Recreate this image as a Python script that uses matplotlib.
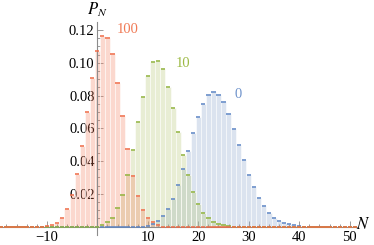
import numpy as np
import matplotlib
matplotlib.use('Agg')
import matplotlib.pyplot as plt
from matplotlib.ticker import FixedLocator

plt.rcParams['font.family'] = ['Liberation Serif', 'DejaVu Serif']
plt.rcParams['mathtext.fontset'] = 'stix'

# distribution values, one bin per integer N
n_100 = list(range(-10, 13))
p_100 = [0.0004, 0.001, 0.0024, 0.0051, 0.0106, 0.0193, 0.0319, 0.0492, 0.0698, 0.0905,
         0.1074, 0.1165, 0.1153, 0.1051, 0.0879, 0.0677, 0.0475, 0.0309, 0.0185, 0.0104,
         0.0055, 0.0026, 0.001]

n_10 = list(range(1, 27))
p_10 = [0.0008, 0.0027, 0.0055, 0.0112, 0.0194, 0.0318, 0.0465, 0.0637, 0.0793, 0.0919,
        0.1003, 0.1013, 0.096, 0.0854, 0.0722, 0.0576, 0.0435, 0.0313, 0.0214, 0.0139,
        0.0086, 0.005, 0.0028, 0.0014, 0.0008, 0.0004]

n_0 = list(range(10, 41))
p_0 = [0.0004, 0.0014, 0.0033, 0.0063, 0.0108, 0.0171, 0.0252, 0.035, 0.0463, 0.0571,
       0.0671, 0.0749, 0.0806, 0.0823, 0.0805, 0.0759, 0.0687, 0.0597, 0.0499, 0.0406,
       0.0317, 0.024, 0.0175, 0.0124, 0.0085, 0.0055, 0.0035, 0.0022, 0.0014, 0.0008, 0.0004]

series_labels = ['0', '10', '100']
label_x = [27.96, 17.0, 6.1]
label_y = [0.0808, 0.0998, 0.1204]

x_ticks = [-10, 10, 20, 30, 40, 50]
y_ticks = [0.02, 0.04, 0.06, 0.08, 0.10, 0.12]

# full bin range shown on the axis (all bins drawn, zero outside the data)
all_bins = np.arange(-19, 52)

fills = [(138/255, 165/255, 205/255, 0.3), (182/255, 198/255, 115/255, 0.3), (245/255, 128/255, 95/255, 0.3)]
caps = ['#5b84c4', '#8fb23a', '#ef6a45']
text_colors = ['#6f93cb', '#9dba45', '#f07a55']

fig = plt.figure(figsize=(3.74, 2.45), dpi=100)
ax = fig.add_axes([0.0, 10/245, 357/374, 213/245])

for (n, p), fill, cap, lab, lx, ly, tc in zip([(n_0, p_0), (n_10, p_10), (n_100, p_100)],
                                               fills, caps, series_labels, label_x, label_y, text_colors):
    full = np.zeros(len(all_bins))
    full[np.array(n) - all_bins[0]] = p
    ax.bar(all_bins, full, width=1.0, color=fill, edgecolor=(1, 1, 1, 0.6), linewidth=0.6, zorder=2)
    ax.hlines(full, all_bins - 0.42, all_bins + 0.42, color=cap, linewidth=1.1, zorder=3)
    ax.text(lx, ly, lab, color=tc, fontsize=10.5, ha='center', va='center')

ax.set_xlim(-19.27, 51.43)
ax.set_ylim(-0.0051, 0.1249)

# Mathematica-like axes crossing at the origin
ax.spines['left'].set_position(('data', 0))
ax.spines['bottom'].set_position(('data', 0))
ax.spines['top'].set_visible(False)
ax.spines['right'].set_visible(False)
for s in ['left', 'bottom']:
    ax.spines[s].set_color('#8c8c8c')
    ax.spines[s].set_linewidth(0.8)
ax.patch.set_alpha(0)

ax.xaxis.set_major_locator(FixedLocator(x_ticks))
ax.xaxis.set_minor_locator(FixedLocator([v for v in range(-18, 52, 2) if v % 10 != 0]))
ax.yaxis.set_major_locator(FixedLocator(y_ticks))
ax.yaxis.set_minor_locator(FixedLocator([v / 1000 for v in range(5, 125, 5) if v % 20 != 0]))
ax.set_xticklabels([str(v).replace('-', '\u2212') for v in x_ticks])
ax.set_yticklabels([f'{v:.2f}' for v in y_ticks])
ax.tick_params(which='both', direction='in', color='#8c8c8c', labelsize=10.5, width=0.6)
ax.tick_params(which='major', length=4)
ax.tick_params(which='minor', length=2)
ax.tick_params(axis='x', pad=3)
ax.tick_params(axis='y', pad=2)

fig.text(97/374, 1 - 10/245, '$P_N$', fontsize=12, ha='center', va='center')
fig.text(363/374, 1 - 225/245, '$N$', fontsize=12, ha='center', va='center')

fig.savefig('out.png', dpi=100)
